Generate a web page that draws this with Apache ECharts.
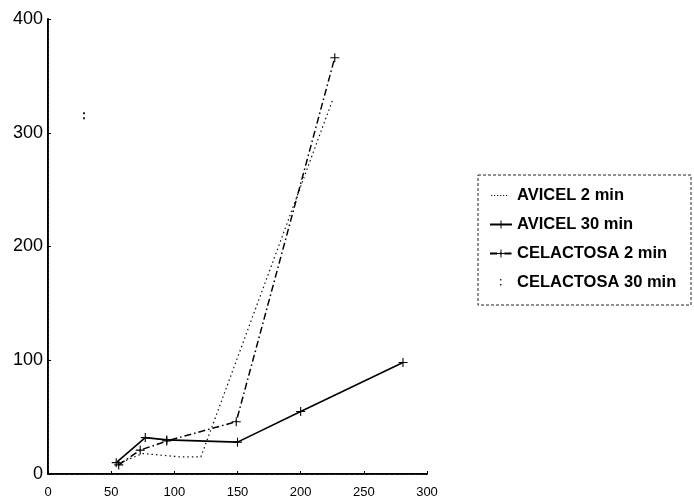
<!DOCTYPE html>
<html>
<head>
<meta charset="utf-8">
<script src="https://cdn.jsdelivr.net/npm/echarts@6/dist/echarts.min.js"></script>
<style>
  html, body { margin: 0; padding: 0; background: #fff; }
  #chart { width: 694px; height: 502px; }
</style>
</head>
<body>
<div id="chart"></div>
<script>
// Measured points, [x, y]
const avicel2 = [[55, 9], [75, 18], [105, 15], [121, 15], [225, 328]];
const avicel30 = [[54, 10], [77, 32], [94, 30], [150, 28], [200, 55], [281, 98]];
const celactosa2 = [[56, 8], [73, 21], [94, 29], [149, 46], [227, 366]];
const celactosa30 = [[28.5, 315]];

const seriesNames = ['AVICEL 2 min', 'AVICEL 30 min', 'CELACTOSA 2 min', 'CELACTOSA 30 min'];
const xTicks = [0, 50, 100, 150, 200, 250, 300];
const yTicks = [0, 100, 200, 300, 400];

const plusSym = 'path://M4.4,0h1.2v10h-1.2z M0,4.4h10v1.2h-10z';
const colonSym = 'path://M0,0h2v2h-2z M0,5h2v2h-2z';
// legend glyphs drawn on a 22x10 box (faint corner specks keep the box size)
const dotLineIcon = 'path://M0,0h0.05v0.05h-0.05z M21.95,9.95h0.05v0.05h-0.05z M1,4.5h1.2v1h-1.2z M4,4.5h1.2v1h-1.2z M7,4.5h1.2v1h-1.2z M10,4.5h1.2v1h-1.2z M13,4.5h1.2v1h-1.2z M16,4.5h1.2v1h-1.2z';
const colonIcon = 'path://M0,0h0.05v0.05h-0.05z M21.95,9.95h0.05v0.05h-0.05z M10,1.5h1.4v1.6h-1.4z M10,6.5h1.4v1.6h-1.4z';

const chart = echarts.init(document.getElementById('chart'), null, { renderer: 'canvas' });

chart.setOption({
  animation: false,
  backgroundColor: '#fff',
  grid: { left: 48, right: 267, top: 19, bottom: 28 },
  legend: {
    orient: 'vertical',
    left: 484,
    top: 182,
    itemGap: 12,
    itemWidth: 22,
    itemHeight: 10,
    data: [
      { name: seriesNames[0], icon: dotLineIcon },
      { name: seriesNames[1] },
      { name: seriesNames[2] },
      { name: seriesNames[3], icon: colonIcon }
    ],
    textStyle: { fontFamily: 'Liberation Sans, Arial', fontWeight: 'bold', fontSize: 16.5, lineHeight: 17, color: '#000' }
  },
  graphic: [{
    type: 'rect',
    shape: { x: 478, y: 175, width: 213, height: 130 },
    style: { fill: 'none', stroke: '#222', lineWidth: 1, lineDash: [3, 2] },
    silent: true
  }],
  xAxis: [{
    type: 'value', min: 0, max: 300, interval: 50,
    axisLine: { show: true, onZero: false, lineStyle: { color: '#000', width: 2 } },
    axisTick: { show: true, inside: true, length: 3, lineStyle: { color: '#000' } },
    axisLabel: {
      color: '#000', fontSize: 13, fontFamily: 'Liberation Sans, Arial', margin: 12,
      formatter: v => (xTicks.indexOf(v) >= 0 ? String(v) : '')
    },
    splitLine: { show: false }
  }, {
    type: 'value', min: 0, max: 300, position: 'top',
    axisLine: { show: true, lineStyle: { color: '#222', width: 1, type: [3, 2] } },
    axisTick: { show: false }, axisLabel: { show: false }, splitLine: { show: false }
  }],
  yAxis: [{
    type: 'value', min: 0, max: 400, interval: 100,
    axisLine: { show: true, onZero: false, lineStyle: { color: '#000', width: 2 } },
    axisTick: { show: true, inside: true, length: 3, lineStyle: { color: '#000' } },
    axisLabel: {
      color: '#000', fontSize: 18, fontFamily: 'Liberation Sans, Arial', margin: 5,
      formatter: v => (yTicks.indexOf(v) >= 0 ? String(v) : '')
    },
    splitLine: { show: false }
  }, {
    type: 'value', min: 0, max: 400, position: 'right',
    axisLine: { show: true, lineStyle: { color: '#222', width: 1, type: [2, 2] } },
    axisTick: { show: false }, axisLabel: { show: false }, splitLine: { show: false }
  }],
  series: [
    {
      name: seriesNames[0], type: 'line', data: avicel2,
      symbol: 'none',
      lineStyle: { color: '#111', width: 1.2, type: [1.5, 3] },
      itemStyle: { color: '#111' }
    },
    {
      name: seriesNames[1], type: 'line', data: avicel30,
      symbol: plusSym, symbolSize: 9,
      lineStyle: { color: '#000', width: 1.6, type: 'solid' },
      itemStyle: { color: '#000' }
    },
    {
      name: seriesNames[2], type: 'line', data: celactosa2,
      symbol: plusSym, symbolSize: 9,
      lineStyle: { color: '#000', width: 1.5, type: [7, 3, 1.5, 3] },
      itemStyle: { color: '#000' }
    },
    {
      name: seriesNames[3], type: 'line', data: celactosa30,
      symbol: colonSym, symbolSize: [2, 7],
      lineStyle: { color: '#222', width: 1, type: [1, 4], opacity: 0 },
      itemStyle: { color: '#222' }
    }
  ]
});
</script>
</body>
</html>
